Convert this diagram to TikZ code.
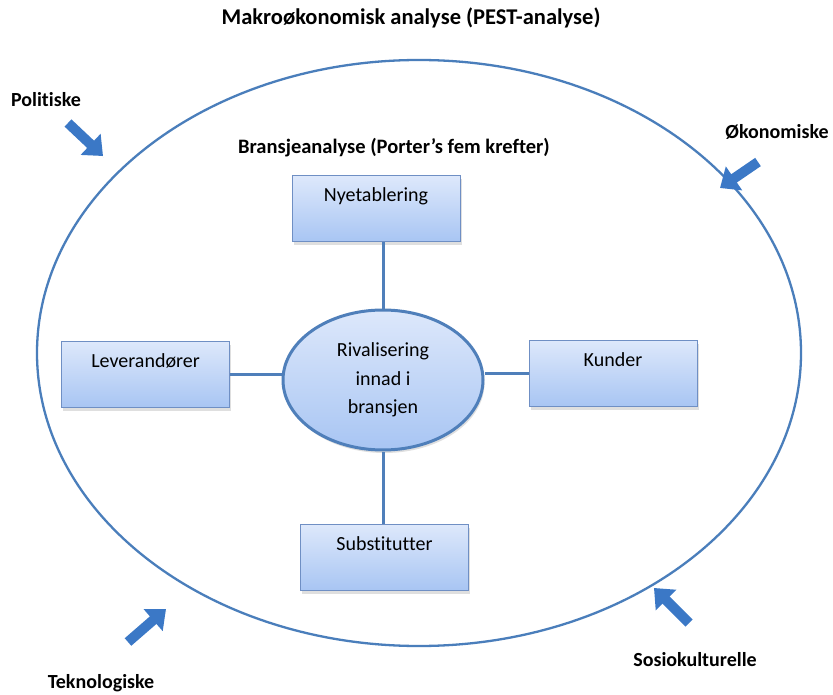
\documentclass[tikz,border=0pt]{standalone}
\usepackage{fontspec}
\setmainfont{Carlito}[Ligatures=CommonOff]
\usetikzlibrary{arrows.meta,shadows,shapes.geometric}
\definecolor{ringblue}{HTML}{4A7EBB}
\definecolor{linkblue}{HTML}{4F7FBA}
\definecolor{boxedge}{HTML}{6F8FC4}
\definecolor{filltop}{HTML}{DDE8FB}
\definecolor{fillbot}{HTML}{A8C5F3}
\definecolor{pushblue}{HTML}{3B78C6}
\tikzset{
  headline/.style={font=\fontsize{20.5}{24}\selectfont\bfseries, inner sep=0pt},
  force/.style={font=\fontsize{20}{24}\selectfont\bfseries, inner sep=0pt},
  forcebox/.style={rectangle, draw=boxedge, line width=1pt,
    top color=filltop, bottom color=fillbot,
    minimum width=168pt, inner sep=0pt,
    text height=26pt, text depth=40pt,
    font=\fontsize{20}{24}\selectfont,
    drop shadow={opacity=0.25, shadow xshift=1.5pt, shadow yshift=-3pt}},
  hub/.style={ellipse, draw=linkblue, line width=3pt,
    top color=filltop, bottom color=fillbot,
    minimum width=200pt, minimum height=140pt, inner sep=0pt,
    align=center, font=\fontsize{20}{28.5}\selectfont,
    drop shadow={opacity=0.25, shadow xshift=1.5pt, shadow yshift=-3pt}},
  link/.style={draw=linkblue, line width=3pt},
  push/.style={draw=pushblue, line width=10pt,
    -{Triangle[length=17pt, width=28pt]},
    drop shadow={opacity=0.2, shadow xshift=1pt, shadow yshift=-2pt}},
}
\begin{document}
\begin{tikzpicture}[x=1pt, y=-1pt]
  \useasboundingbox[fill=white] (0,0) rectangle (833,695);

  % outer ring: the macro environment
  \draw[ringblue, line width=2.3pt] (419,353) ellipse [x radius=382, y radius=293];

  % headings
  \node[headline, font=\fontsize{22.5}{26}\selectfont\bfseries] (macro) at (411,18) {Makroøkonomisk analyse (PEST-analyse)};
  \node[headline] (industry) at (394,148) {Bransjeanalyse (Porter’s fem krefter)};

  % five forces
  \node[hub] (rival) at (383,380) {Rivalisering\\innad i\\bransjen};
  \node[forcebox] (entry) at (376,209) {Nyetablering};
  \node[forcebox] (supp) at (145.5,374.5) {Leverandører};
  \node[forcebox] (cust) at (613,373.5) {Kunder};
  \node[forcebox] (subs) at (384.5,557.5) {Substitutter};

  % links to the centre
  \draw[link] (entry.south -| rival.north) -- (rival.north);
  \draw[link] (rival.south) -- (rival.south |- subs.north);
  \draw[link] (supp.east) -- (rival.west |- supp.east);
  \draw[link] (rival.east |- cust.west) -- (cust.west);

  % PEST factors
  \node[force] (pol) at (46,100) {Politiske};
  \node[force] (oko) at (777,132) {Økonomiske};
  \node[force] (tek) at (101,683) {Teknologiske};
  \node[force] (sos) at (695,660) {Sosiokulturelle};

  \coordinate (polA) at (68,123);  \coordinate (polB) at (103,156);
  \coordinate (okoA) at (758,162); \coordinate (okoB) at (720,188);
  \coordinate (tekA) at (128,642); \coordinate (tekB) at (166,609);
  \coordinate (sosA) at (689,623); \coordinate (sosB) at (654,588);

  \draw[push] (polA) -- (polB);
  \draw[push] (okoA) -- (okoB);
  \draw[push] (tekA) -- (tekB);
  \draw[push] (sosA) -- (sosB);
\end{tikzpicture}
\end{document}
